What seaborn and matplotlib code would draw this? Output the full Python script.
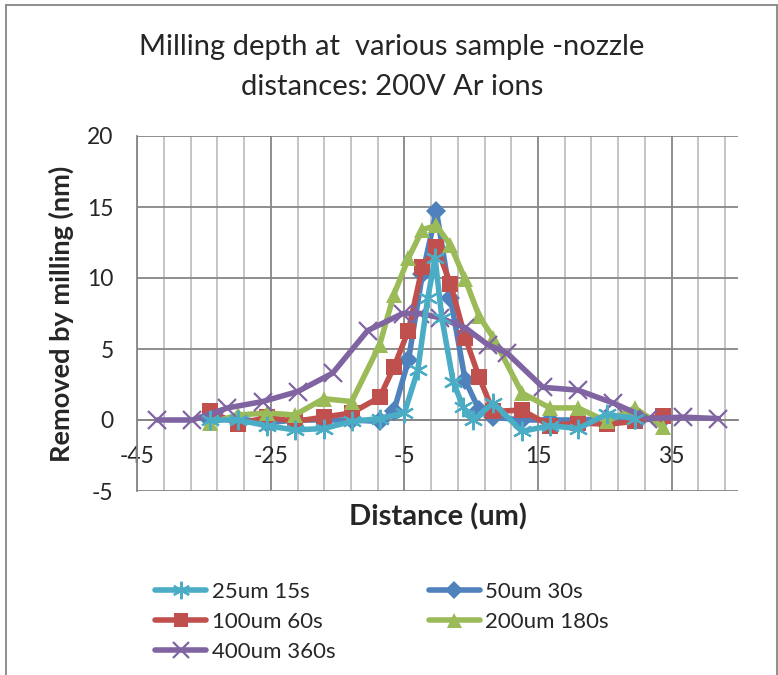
import numpy as np
import pandas as pd
import matplotlib
matplotlib.use("Agg")
import matplotlib.pyplot as plt
import seaborn as sns
from matplotlib.lines import Line2D

# scan positions (um) used for the 50/100/200 um runs
x_scan = [-34.1, -29.9, -25.6, -21.4, -17.1, -12.9, -8.7, -6.6, -4.4, -2.3, -0.2,
          1.9, 4.1, 6.2, 8.3, 12.6, 16.8, 21.0, 25.3, 29.5, 33.7]

# 25um 15s
x_25 = [-34.1, -29.9, -25.6, -21.4, -17.1, -12.9, -8.7, -5.0, -3.0, -1.5, -0.4,
        0.6, 2.3, 3.8, 5.3, 8.3, 12.6, 16.8, 21.0, 25.3, 29.5]
y_25 = [0.0, 0.0, -0.4, -0.7, -0.6, -0.1, 0.1, 0.5, 3.5, 8.6, 11.4,
        7.2, 2.7, 0.9, 0.0, 1.2, -0.8, -0.4, -0.6, 0.4, 0.1]

# 50um 30s
y_50 = [0.0, 0.1, -0.2, 0.0, 0.0, 0.0, -0.1, 0.6, 4.2, 10.3, 14.7,
        8.6, 2.8, 0.7, 0.2, 0.0, 0.0, 0.0, 0.1, 0.0, 0.1]

# 100um 60s
y_100 = [0.6, -0.3, 0.2, -0.1, 0.2, 0.5, 1.6, 3.7, 6.3, 10.8, 12.2,
         9.6, 5.8, 3.0, 0.6, 0.7, -0.4, -0.2, -0.3, -0.1, 0.3]

# 200um 180s
y_200 = [-0.2, 0.35, 0.5, 0.35, 1.5, 1.3, 5.3, 8.8, 11.4, 13.4, 13.7,
         12.3, 9.9, 7.3, 5.8, 1.9, 0.85, 0.85, -0.1, 0.85, -0.5]

# 400um 360s
x_400 = [-42.0, -36.75, -31.5, -26.25, -21.0, -15.75, -10.5, -5.25, -2.6, 0.3,
         4.1, 7.5, 10.4, 15.75, 21.0, 26.25, 31.5, 36.75, 42.0]
y_400 = [0.0, 0.0, 0.85, 1.3, 2.0, 3.3, 6.3, 7.5, 7.5, 7.2,
         6.5, 5.3, 4.7, 2.3, 2.1, 1.2, 0.1, 0.2, 0.1]

labels = ["25um 15s", "50um 30s", "100um 60s", "200um 180s", "400um 360s"]
colors = ["#4BACC6", "#4F81BD", "#C0504D", "#9BBB59", "#8064A2"]

series = {
    "25um 15s": (x_25, y_25),
    "50um 30s": (x_scan, y_50),
    "100um 60s": (x_scan, y_100),
    "200um 180s": (x_scan, y_200),
    "400um 360s": (x_400, y_400),
}
styles = {
    "25um 15s": dict(marker=(6, 2, 0), ms=14, mew=1.6),
    "50um 30s": dict(marker="D", ms=10, mew=0),
    "100um 60s": dict(marker="s", ms=11, mew=0),
    "200um 180s": dict(marker="^", ms=12, mew=0),
    "400um 360s": dict(marker="x", ms=13, mew=1.6),
}
draw_order = ["50um 30s", "100um 60s", "200um 180s", "400um 360s", "25um 15s"]

sns.set_style("white")
plt.rcParams["font.family"] = ["Lato", "DejaVu Sans"]
plt.rcParams["axes.unicode_minus"] = False

fig = plt.figure(figsize=(7.78, 6.75), dpi=100)
ax = fig.add_axes([137.3 / 778, 1 - 491 / 675, 601 / 778, 355 / 675])

grey = "#868686"
handles = {}
for name in draw_order:
    xs, ys = series[name]
    c = colors[labels.index(name)]
    st = styles[name]
    df = pd.DataFrame({"x": xs, "y": ys})
    sns.lineplot(data=df, x="x", y="y", sort=False, ax=ax, color=c, lw=4,
                 marker=st["marker"], markersize=st["ms"], markeredgewidth=st["mew"],
                 markeredgecolor=c, markerfacecolor=c, zorder=3)
    handles[name] = Line2D([], [], color=c, lw=4, marker=st["marker"],
                           markersize=st["ms"] * 0.9, markeredgewidth=st["mew"],
                           markeredgecolor=c, markerfacecolor=c)

ax.set_xlim(-45, 45)
ax.set_ylim(-5, 20)
ax.set_xticks(np.arange(-45, 46, 20))
ax.set_xticks(np.arange(-45, 45, 4), minor=True)
ax.set_yticks(np.arange(-5, 21, 5))
ax.grid(which="major", axis="both", color=grey, lw=1.3, zorder=0)
ax.grid(which="minor", axis="x", color="#C0C0C0", lw=1.3, zorder=0)
ax.set_axisbelow(True)

for s in ["top", "right"]:
    ax.spines[s].set_visible(False)
ax.spines["left"].set_color(grey)
ax.spines["left"].set_linewidth(1.3)
ax.spines["bottom"].set_position(("data", 0))
ax.spines["bottom"].set_color(grey)
ax.spines["bottom"].set_linewidth(1.3)

ax.tick_params(axis="x", which="both", length=0, pad=19, labelsize=16.5)
ax.tick_params(axis="y", which="major", length=6, width=1.3, color=grey,
               direction="out", pad=11, labelsize=16.5)

ax.set_xlabel("Distance (um)", fontsize=21, fontweight="bold")
ax.set_ylabel("Removed by milling (nm)", fontsize=19.5, fontweight="bold")
ax.xaxis.set_label_coords(0.5, -0.035)
ax.yaxis.set_label_coords(-0.105, 0.5)

fig.text(392 / 778, 1 - 47 / 675, "Milling depth at  various sample -nozzle",
         ha="center", va="center", fontsize=21)
fig.text(392 / 778, 1 - 87 / 675, "distances: 200V Ar ions",
         ha="center", va="center", fontsize=21)

leg_order = ["25um 15s", "100um 60s", "400um 360s", "50um 30s", "200um 180s"]
fig.legend([handles[n] for n in leg_order], leg_order, ncol=2, frameon=False,
           loc="upper left", bbox_to_anchor=(155 / 778, 1 - 582 / 675),
           fontsize=16, handlelength=2.3, handletextpad=0.25,
           columnspacing=4.2, labelspacing=0.45, borderpad=0, borderaxespad=0)

# chart area border
fig.add_artist(Line2D([6 / 778, 6 / 778], [0, 1 - 5 / 675], color=grey, lw=1.3))
fig.add_artist(Line2D([6 / 778, 777 / 778], [1 - 5 / 675, 1 - 5 / 675], color=grey, lw=1.3))
fig.add_artist(Line2D([777 / 778, 777 / 778], [0, 1 - 5 / 675], color=grey, lw=1.3))

fig.savefig("out.png", dpi=100)
